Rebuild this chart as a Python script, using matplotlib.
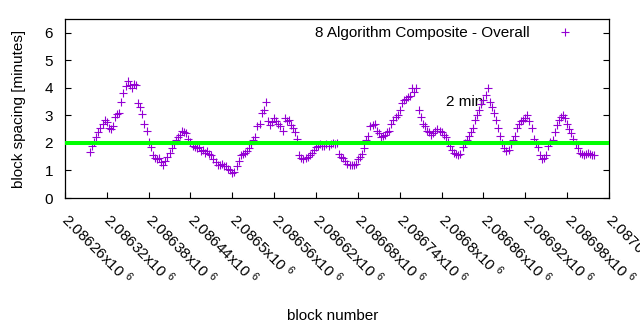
import numpy as np
import matplotlib
matplotlib.use('Agg')
import matplotlib.pyplot as plt

plt.rcParams['font.family'] = ['Liberation Sans', 'DejaVu Sans']
plt.rcParams['mathtext.fontset'] = 'custom'
plt.rcParams['mathtext.rm'] = 'Liberation Sans'
plt.rcParams['mathtext.it'] = 'Liberation Sans'

###################################################
# block numbers (every 3rd block) and the composite spacing in minutes
blocks = [
    2086296, 2086299, 2086302, 2086305, 2086308, 2086311, 2086314, 2086317, 2086320, 2086323,
    2086326, 2086329, 2086332, 2086335, 2086338, 2086341, 2086344, 2086347, 2086350, 2086353,
    2086356, 2086359, 2086362, 2086365, 2086368, 2086371, 2086374, 2086377, 2086380, 2086383,
    2086386, 2086389, 2086392, 2086395, 2086398, 2086401, 2086404, 2086407, 2086410, 2086413,
    2086416, 2086419, 2086422, 2086425, 2086428, 2086431, 2086434, 2086437, 2086440, 2086443,
    2086446, 2086449, 2086452, 2086455, 2086458, 2086461, 2086464, 2086467, 2086470, 2086473,
    2086476, 2086479, 2086482, 2086485, 2086488, 2086491, 2086494, 2086497, 2086500, 2086503,
    2086506, 2086509, 2086512, 2086515, 2086518, 2086521, 2086524, 2086527, 2086530, 2086533,
    2086536, 2086539, 2086542, 2086545, 2086548, 2086551, 2086554, 2086557, 2086560, 2086563,
    2086566, 2086569, 2086572, 2086575, 2086578, 2086581, 2086584, 2086587, 2086590, 2086593,
    2086596, 2086599, 2086602, 2086605, 2086608, 2086611, 2086614, 2086617, 2086620, 2086623,
    2086626, 2086629, 2086632, 2086635, 2086638, 2086641, 2086644, 2086647, 2086650, 2086653,
    2086656, 2086659, 2086662, 2086665, 2086668, 2086671, 2086674, 2086677, 2086680, 2086683,
    2086686, 2086689, 2086692, 2086695, 2086698, 2086701, 2086704, 2086707, 2086710, 2086713,
    2086716, 2086719, 2086722, 2086725, 2086728, 2086731, 2086734, 2086737, 2086740, 2086743,
    2086746, 2086749, 2086752, 2086755, 2086758, 2086761, 2086764, 2086767, 2086770, 2086773,
    2086776, 2086779, 2086782, 2086785, 2086788, 2086791, 2086794, 2086797, 2086800, 2086803,
    2086806, 2086809, 2086812, 2086815, 2086818, 2086821, 2086824, 2086827, 2086830, 2086833,
    2086836, 2086839, 2086842, 2086845, 2086848, 2086851, 2086854, 2086857, 2086860, 2086863,
    2086866, 2086869, 2086872, 2086875, 2086878, 2086881, 2086884, 2086887, 2086890, 2086893,
    2086896, 2086899, 2086902, 2086905, 2086908, 2086911, 2086914, 2086917, 2086920, 2086923,
    2086926, 2086929, 2086932, 2086935, 2086938, 2086941, 2086944, 2086947, 2086950, 2086953,
    2086956, 2086959, 2086962, 2086965, 2086968, 2086971, 2086974, 2086977, 2086980, 2086983,
    2086986, 2086989, 2086992, 2086995, 2086998, 2087001, 2087004, 2087007, 2087010, 2087013,
    2087016, 2087019,
]
spacing = [
    1.68, 1.90, 2.05, 2.20, 2.40, 2.55, 2.70, 2.85, 2.75, 2.55,
    2.50, 2.60, 2.95, 3.05, 3.10, 3.50, 3.80, 4.05, 4.25, 4.10,
    4.00, 4.15, 4.10, 3.45, 3.30, 3.05, 2.70, 2.45, 2.05, 1.85,
    1.55, 1.45, 1.40, 1.45, 1.30, 1.20, 1.35, 1.50, 1.65, 1.80,
    1.95, 2.10, 2.20, 2.30, 2.45, 2.40, 2.35, 2.15, 2.05, 1.90,
    1.85, 1.80, 1.85, 1.70, 1.75, 1.65, 1.70, 1.60, 1.55, 1.40,
    1.30, 1.20, 1.20, 1.25, 1.15, 1.15, 1.05, 1.00, 0.90, 0.95,
    1.15, 1.35, 1.55, 1.60, 1.65, 1.70, 1.80, 1.95, 2.10, 2.20,
    2.60, 2.70, 3.10, 3.20, 3.50, 2.80, 2.65, 2.75, 2.90, 2.80,
    2.70, 2.60, 2.45, 2.90, 2.80, 2.85, 2.65, 2.55, 2.40, 2.15,
    1.55, 1.45, 1.40, 1.45, 1.50, 1.55, 1.65, 1.75, 1.85, 1.90,
    1.95, 1.90, 1.90, 1.95, 1.90, 1.95, 2.00, 1.95, 2.00, 1.60,
    1.50, 1.45, 1.35, 1.25, 1.20, 1.20, 1.20, 1.25, 1.40, 1.50,
    1.60, 1.80, 2.10, 2.25, 2.60, 2.65, 2.70, 2.45, 2.35, 2.20,
    2.25, 2.30, 2.40, 2.45, 2.70, 2.85, 2.95, 3.00, 3.20, 3.45,
    3.55, 3.60, 3.65, 3.70, 4.00, 3.85, 4.00, 3.20, 2.95, 2.70,
    2.60, 2.45, 2.40, 2.30, 2.35, 2.45, 2.50, 2.45, 2.40, 2.30,
    2.20, 2.05, 1.90, 1.75, 1.65, 1.60, 1.55, 1.60, 1.85, 2.00,
    2.10, 2.25, 2.40, 2.55, 2.85, 3.00, 3.20, 3.40, 3.55, 3.75,
    4.00, 3.50, 3.30, 3.10, 2.85, 2.55, 2.25, 2.00, 1.80, 1.70,
    1.75, 1.95, 2.10, 2.25, 2.55, 2.70, 2.80, 2.85, 2.90, 3.00,
    2.80, 2.55, 2.15, 2.00, 1.85, 1.55, 1.40, 1.45, 1.55, 1.90,
    2.05, 2.10, 2.40, 2.65, 2.85, 2.95, 3.00, 2.90, 2.70, 2.50,
    2.35, 2.15, 1.95, 1.80, 1.65, 1.60, 1.55, 1.60, 1.65, 1.60,
    1.55, 1.55,
]
target = 2.0
xticks = [2086260 + 60 * i for i in range(14)]
xticklabels = ['2.08626', '2.08632', '2.08638', '2.08644', '2.0865', '2.08656', '2.08662',
               '2.08668', '2.08674', '2.0868', '2.08686', '2.08692', '2.08698', '2.08704']
##################################################

fs = 11

fig = plt.figure(figsize=(6.4, 3.3), dpi=100, facecolor='w')
ax = fig.add_axes([0.1014, 0.40, 0.8502, 0.5424])

ax.plot(blocks, spacing, ls='none', marker='+', ms=6, mew=0.8, color='#9400D3',
        label='8 Algorithm Composite - Overall', zorder=3)
ax.axhline(target, color='#00FF00', lw=2.9, zorder=4)
ax.text(2086806, 3.5, '2 min', fontsize=fs, va='center', ha='left', zorder=2)

ax.set_xlim(2086260, 2087040)
ax.set_ylim(0, 6.5)
ax.set_yticks(range(7))
ax.set_xticks(xticks)
ax.set_xticklabels([l + r'x10 $^{6}$' for l in xticklabels], rotation=-45, ha='left', va='center',
                   rotation_mode='anchor', fontsize=fs)
ax.tick_params(axis='y', which='both', direction='in', right=True, length=4, labelsize=fs, pad=8.5)
ax.tick_params(axis='x', which='both', direction='in', top=False, length=4, pad=13)
for s in ax.spines.values():
    s.set_linewidth(0.9)

ax.set_ylabel('block spacing [minutes]', fontsize=fs)
ax.yaxis.set_label_coords(-0.072, 0.5)
ax.set_xlabel('block number', fontsize=fs)
ax.xaxis.set_label_coords(0.492, -0.62)

ax.legend(loc='upper right', bbox_to_anchor=(0.947, 0.96), frameon=False, markerfirst=False,
          fontsize=fs, handlelength=2.0, handletextpad=1.3, borderpad=0, borderaxespad=0)

plt.savefig('out.png', dpi=100)
